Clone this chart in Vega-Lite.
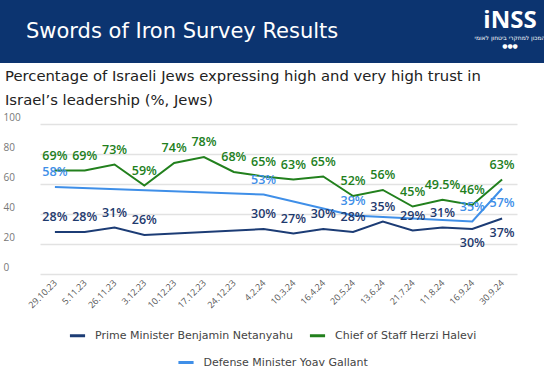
{
  "$schema": "https://vega.github.io/schema/vega-lite/v6.json",
  "padding": 0,
  "background": "white",
  "spacing": 6,
  "config": {
    "font": "Open Sans",
    "view": {"stroke": null},
    "concat": {"spacing": 0},
    "legend": {
      "orient": "bottom",
      "direction": "horizontal",
      "symbolType": "stroke",
      "symbolStrokeWidth": 3,
      "symbolSize": 230,
      "labelFontSize": 11,
      "labelFont": "DejaVu Sans",
      "labelColor": "#444",
      "labelLimit": 400,
      "columnPadding": 10,
      "labelOffset": 8,
      "offset": 16,
      "layout": {"bottom": {"anchor": "middle", "direction": "vertical", "center": true, "margin": 11}}
    }
  },
  "datasets": {
    "survey": [
      {"date": "29.10.23", "series": "Chief of Staff Herzi Halevi", "value": 69},
      {"date": "5.11.23", "series": "Chief of Staff Herzi Halevi", "value": 69},
      {"date": "26.11.23", "series": "Chief of Staff Herzi Halevi", "value": 73},
      {"date": "3.12.23", "series": "Chief of Staff Herzi Halevi", "value": 59},
      {"date": "10.12.23", "series": "Chief of Staff Herzi Halevi", "value": 74},
      {"date": "17.12.23", "series": "Chief of Staff Herzi Halevi", "value": 78},
      {"date": "24.12.23", "series": "Chief of Staff Herzi Halevi", "value": 68},
      {"date": "4.2.24", "series": "Chief of Staff Herzi Halevi", "value": 65},
      {"date": "10.3.24", "series": "Chief of Staff Herzi Halevi", "value": 63},
      {"date": "16.4.24", "series": "Chief of Staff Herzi Halevi", "value": 65},
      {"date": "20.5.24", "series": "Chief of Staff Herzi Halevi", "value": 52},
      {"date": "13.6.24", "series": "Chief of Staff Herzi Halevi", "value": 56},
      {"date": "21.7.24", "series": "Chief of Staff Herzi Halevi", "value": 45},
      {"date": "11.8.24", "series": "Chief of Staff Herzi Halevi", "value": 49.5},
      {"date": "16.9.24", "series": "Chief of Staff Herzi Halevi", "value": 46},
      {"date": "30.9.24", "series": "Chief of Staff Herzi Halevi", "value": 63},
      {"date": "29.10.23", "series": "Prime Minister Benjamin Netanyahu", "value": 28},
      {"date": "5.11.23", "series": "Prime Minister Benjamin Netanyahu", "value": 28},
      {"date": "26.11.23", "series": "Prime Minister Benjamin Netanyahu", "value": 31},
      {"date": "3.12.23", "series": "Prime Minister Benjamin Netanyahu", "value": 26},
      {"date": "4.2.24", "series": "Prime Minister Benjamin Netanyahu", "value": 30},
      {"date": "10.3.24", "series": "Prime Minister Benjamin Netanyahu", "value": 27},
      {"date": "16.4.24", "series": "Prime Minister Benjamin Netanyahu", "value": 30},
      {"date": "20.5.24", "series": "Prime Minister Benjamin Netanyahu", "value": 28},
      {"date": "13.6.24", "series": "Prime Minister Benjamin Netanyahu", "value": 35},
      {"date": "21.7.24", "series": "Prime Minister Benjamin Netanyahu", "value": 29},
      {"date": "11.8.24", "series": "Prime Minister Benjamin Netanyahu", "value": 31},
      {"date": "16.9.24", "series": "Prime Minister Benjamin Netanyahu", "value": 30},
      {"date": "30.9.24", "series": "Prime Minister Benjamin Netanyahu", "value": 37},
      {"date": "29.10.23", "series": "Defense Minister Yoav Gallant", "value": 58},
      {"date": "4.2.24", "series": "Defense Minister Yoav Gallant", "value": 53},
      {"date": "20.5.24", "series": "Defense Minister Yoav Gallant", "value": 39},
      {"date": "16.9.24", "series": "Defense Minister Yoav Gallant", "value": 35},
      {"date": "30.9.24", "series": "Defense Minister Yoav Gallant", "value": 57}
    ]
  },
  "vconcat": [
    {
      "spacing": 0,
      "hconcat": [
        {
          "width": 440,
          "height": 63,
          "view": {"fill": "#0c3470", "stroke": null},
          "data": {"values": [{"t": ""}]},
          "mark": {"type": "text"},
          "encoding": {"text": {"field": "t"}},
          "title": {
            "text": "Swords of Iron Survey Results",
            "color": "white",
            "fontSize": 21,
            "fontWeight": "normal",
            "font": "DejaVu Sans",
            "anchor": "start",
            "frame": "group",
            "orient": "top",
            "offset": -58.5,
            "baseline": "alphabetic",
            "dx": 26
          }
        },
        {
          "width": 104,
          "height": 63,
          "view": {"fill": "#0c3470", "stroke": null},
          "data": {"values": [{"t": ""}]},
          "mark": {"type": "text"},
          "encoding": {"text": {"field": "t"}},
          "title": {
            "text": "iNSS",
            "subtitle": ["המכון למחקרי ביטחון לאומי", "●●●"],
            "color": "white",
            "subtitleColor": "white",
            "fontSize": 24,
            "fontWeight": "bold",
            "font": "Open Sans",
            "subtitleFont": "DejaVu Sans",
            "subtitleFontSize": 6,
            "subtitlePadding": 2,
            "anchor": "middle",
            "frame": "group",
            "orient": "top",
            "offset": -49,
            "dx": 18
          }
        }
      ]
    },
    {
      "width": 533,
      "height": 150,
      "title": {
        "text": ["Percentage of Israeli Jews expressing high and very high trust in", "Israel’s leadership (%, Jews)"],
        "anchor": "start",
        "frame": "group",
        "fontSize": 14.8,
        "fontWeight": "normal",
        "font": "DejaVu Sans",
        "color": "#222",
        "lineHeight": 24,
        "offset": 4,
        "dx": 5
      },
      "data": {"name": "survey"},
      "encoding": {
        "x": {
          "field": "date",
          "type": "ordinal",
          "scale": {
            "type": "point",
            "domain": ["29.10.23", "5.11.23", "26.11.23", "3.12.23", "10.12.23", "17.12.23", "24.12.23", "4.2.24", "10.3.24", "16.4.24", "20.5.24", "13.6.24", "21.7.24", "11.8.24", "16.9.24", "30.9.24"],
            "range": [40, 517]
          },
          "axis": {
            "title": null,
            "domain": false,
            "ticks": false,
            "grid": false,
            "labelAngle": -45,
            "labelAlign": "right",
            "labelBaseline": "middle",
            "labelFontSize": 9,
            "labelColor": "#555",
            "labelPadding": 7
          }
        },
        "y": {
          "field": "value",
          "type": "quantitative",
          "scale": {"domain": [0, 100]},
          "axis": {
            "title": null,
            "domain": false,
            "ticks": false,
            "tickSize": 0,
            "values": [0, 20, 40, 60, 80, 100],
            "grid": true,
            "gridColor": "#e2e2e2",
            "gridWidth": 1.5,
            "labelAlign": "left",
            "labelBaseline": "bottom",
            "labelPadding": -3,
            "labelOffset": -2,
            "labelFontSize": 10,
            "labelColor": "#777"
          }
        }
      },
      "layer": [
        {
          "transform": [{"filter": "datum.series !== 'Defense Minister Yoav Gallant'"}],
          "mark": {"type": "line", "strokeWidth": 2},
          "encoding": {
            "color": {
              "field": "series",
              "type": "nominal",
              "scale": {"domain": ["Prime Minister Benjamin Netanyahu", "Chief of Staff Herzi Halevi"], "range": ["#1c3c75", "#22801d"]},
              "legend": {"title": null}
            }
          }
        },
        {
          "transform": [{"filter": "datum.series === 'Defense Minister Yoav Gallant'"}],
          "mark": {"type": "line", "strokeWidth": 2},
          "encoding": {
            "stroke": {
              "field": "series",
              "type": "nominal",
              "scale": {"domain": ["Defense Minister Yoav Gallant"], "range": ["#3f8fe8"]},
              "legend": {"title": null}
            }
          }
        },
        {
          "transform": [
            {"calculate": "datum.value + '%'", "as": "label"},
            {"filter": "!((datum.series === 'Prime Minister Benjamin Netanyahu' && (datum.date === '16.9.24' || datum.date === '30.9.24')) || (datum.series === 'Defense Minister Yoav Gallant' && datum.date === '30.9.24'))"}
          ],
          "mark": {"type": "text", "dy": -15, "fontSize": 12.5, "fontWeight": 600, "font": "Open Sans", "baseline": "middle"},
          "encoding": {
            "text": {"field": "label"},
            "fill": {
              "field": "series",
              "type": "nominal",
              "scale": {"domain": ["Prime Minister Benjamin Netanyahu", "Chief of Staff Herzi Halevi", "Defense Minister Yoav Gallant"], "range": ["#1f3a6e", "#22801d", "#3f8fe8"]},
              "legend": null
            }
          }
        },
        {
          "transform": [
            {"calculate": "datum.value + '%'", "as": "label"},
            {"filter": "(datum.series === 'Prime Minister Benjamin Netanyahu' && (datum.date === '16.9.24' || datum.date === '30.9.24')) || (datum.series === 'Defense Minister Yoav Gallant' && datum.date === '30.9.24')"}
          ],
          "mark": {"type": "text", "dy": 14, "fontSize": 12.5, "fontWeight": 600, "font": "Open Sans", "baseline": "middle"},
          "encoding": {
            "text": {"field": "label"},
            "fill": {
              "field": "series",
              "type": "nominal",
              "legend": null
            }
          }
        }
      ]
    }
  ]
}
